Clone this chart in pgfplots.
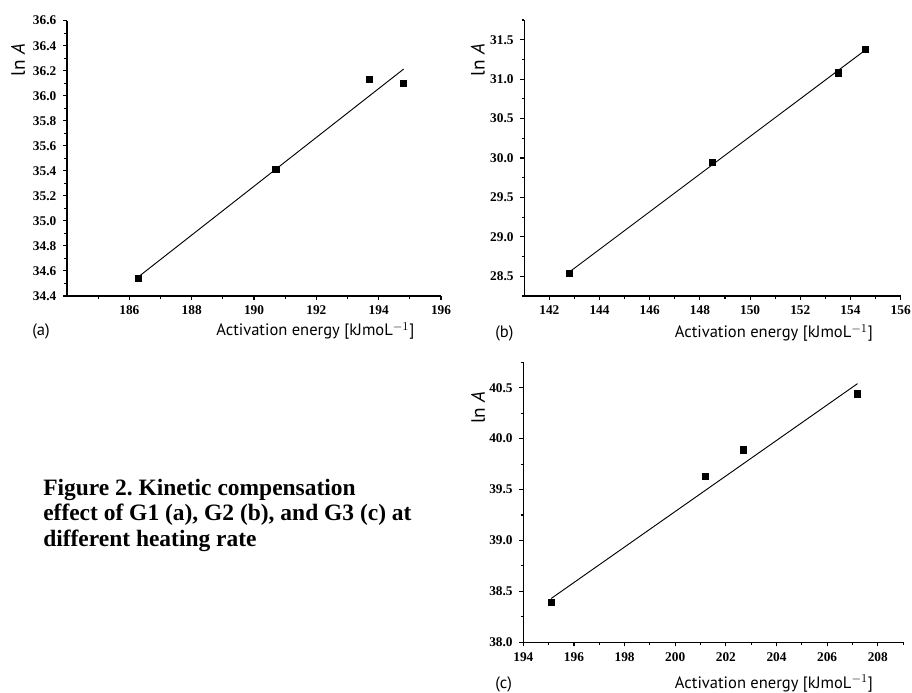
\documentclass[border=0pt]{standalone}
\usepackage{fontspec}
\setmainfont{Liberation Serif}
\newfontfamily\labelfont{PT Sans}
\usepackage{pgfplots}
\pgfplotsset{compat=1.18}
\frenchspacing

% shared look of the three panels (1 px of the reference = 0.75pt)
\pgfplotsset{
  kce/.style={
    scale only axis,
    axis lines=left,
    axis line style={-, line width=0.9pt},
    tick align=outside,
    major tick length=3pt,
    minor tick length=2pt,
    every tick/.style={black, line width=0.8pt},
    tick label style={font=\fontsize{10}{12}\selectfont\bfseries},
    /pgf/number format/assume math mode=true,
    y tick label style={xshift=-1.5pt, /pgf/number format/.cd,fixed,fixed zerofill,precision=1,/tikz/.cd},
    x tick label style={yshift=-1pt, /pgf/number format/.cd,fixed,precision=0,/tikz/.cd},
    xlabel style={font=\labelfont\fontsize{12.4}{14}\selectfont, anchor=base},
    ylabel style={font=\labelfont\fontsize{14.5}{16}\selectfont, anchor=center},
    xlabel={Activation energy [kJmoL$^{-1}$]},
    ylabel={ln \textit{A}},
    clip=false,
  },
  pts/.style={only marks, mark=square*, mark size=2.3pt, black},
  fit/.style={black, line width=0.7pt, no marks},
}

\begin{document}
\begin{tikzpicture}
\useasboundingbox (0,0) rectangle (684pt,519pt);

% (a) G1
\begin{axis}[kce,
  at={(50.25pt,297pt)}, anchor=south west,
  width=280.5pt, height=206.5pt,
  xmin=184, xmax=196, ymin=34.4, ymax=36.6,
  xtick={186,188,190,192,194,196},
  minor xtick={185,187,189,191,193,195},
  ytick={34.4,34.6,34.8,35.0,35.2,35.4,35.6,35.8,36.0,36.2,36.4,36.6},
  minor ytick={34.5,34.7,34.9,35.1,35.3,35.5,35.7,35.9,36.1,36.3,36.5},
  xlabel style={at={(rel axis cs:0.664,0)}, yshift=-30pt},
  ylabel style={at={(rel axis cs:-0.131,0.857)}},
]
\addplot[pts] coordinates {(186.3,34.54) (190.7,35.41) (193.7,36.13) (194.8,36.10)};
\addplot[fit] coordinates {(186.3,34.555) (194.8,36.213)};
\end{axis}

% (b) G2
\begin{axis}[kce,
  at={(393.2pt,297pt)}, anchor=south west,
  width=282.3pt, height=207pt,
  xmin=141, xmax=156, ymin=28.25, ymax=31.75,
  xtick={142,144,146,148,150,152,154,156},
  minor xtick={143,145,147,149,151,153,155},
  ytick={28.5,29.0,29.5,30.0,30.5,31.0,31.5},
  minor ytick={28.25,28.75,29.25,29.75,30.25,30.75,31.25,31.75},
  xlabel style={at={(rel axis cs:0.663,0)}, yshift=-31.5pt},
  ylabel style={at={(rel axis cs:-0.123,0.855)}},
]
\addplot[pts] coordinates {(142.8,28.54) (148.5,29.95) (153.5,31.08) (154.6,31.38)};
\addplot[fit] coordinates {(142.8,28.555) (154.6,31.371)};
\end{axis}

% (c) G3
\begin{axis}[kce,
  at={(392.5pt,37.3pt)}, anchor=south west,
  width=284.8pt, height=210pt,
  xmin=194, xmax=209, ymin=38, ymax=40.75,
  xtick={194,196,198,200,202,204,206,208},
  minor xtick={195,197,199,201,203,205,207,209},
  ytick={38.0,38.5,39.0,39.5,40.0,40.5},
  minor ytick={38.25,38.75,39.25,39.75,40.25,40.75},
  xlabel style={at={(rel axis cs:0.660,0)}, yshift=-34.3pt},
  ylabel style={at={(rel axis cs:-0.119,0.837)}},
]
\addplot[pts] coordinates {(195.1,38.39) (201.2,39.63) (202.7,39.89) (207.2,40.44)};
\addplot[fit] coordinates {(195.1,38.43) (207.2,40.54)};
\end{axis}

% panel letters
\node[anchor=base west, font=\labelfont\fontsize{12.4}{14}\selectfont, inner sep=0pt] at (24pt,267pt) {(a)};
\node[anchor=base west, font=\labelfont\fontsize{12.4}{14}\selectfont, inner sep=0pt] at (371.25pt,265.5pt) {(b)};
\node[anchor=base west, font=\labelfont\fontsize{12.4}{14}\selectfont, inner sep=0pt] at (371.25pt,3pt) {(c)};

% caption (base = baseline of its last line)
\node[anchor=base west, inner sep=0pt, align=left,
      font=\bfseries\fontsize{17.6}{18.8}\selectfont] at (32.25pt,109.5pt)
  {Figure 2. Kinetic compensation\\effect of G1 (a), G2 (b), and G3 (c) at\\different heating rate};
\end{tikzpicture}
\end{document}
